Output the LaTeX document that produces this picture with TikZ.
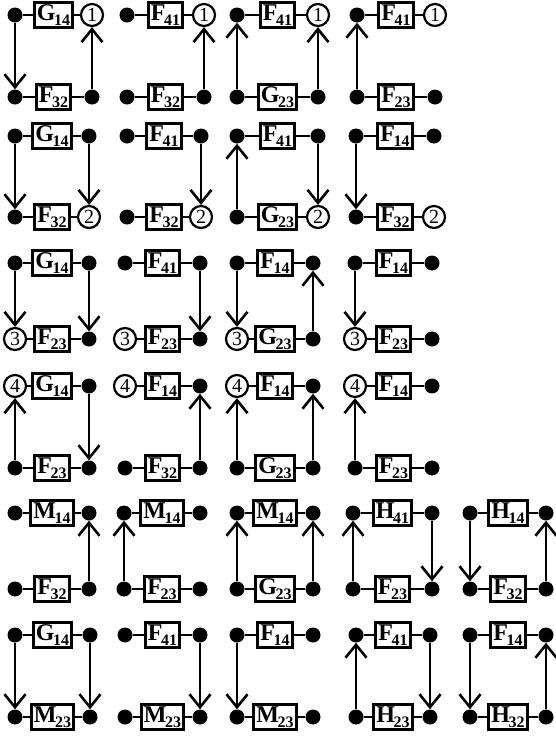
\documentclass[tikz,border=0pt]{standalone}
\usepackage{fontspec}
\setmainfont{Liberation Serif}
\usetikzlibrary{arrows.meta}

% bold gate letter with a lowered index
\newcommand\gl[2]{{\fontsize{24}{24}\selectfont\bfseries #1\kern-1.2pt\raisebox{-5pt}{\fontsize{16}{16}\selectfont #2}}}

\tikzset{
  dot/.style={circle, fill=black, inner sep=0pt, minimum size=15pt},
  numtxt/.style={inner sep=0pt, font=\fontsize{20}{20}\selectfont},
  numc/.style={circle, draw=black, line width=2.2pt, fill=white, inner sep=0pt, minimum size=22pt},
  c1/.style={numc, label={[numtxt]center:1}},
  c2/.style={numc, label={[numtxt]center:2}},
  c3/.style={numc, label={[numtxt]center:3}},
  c4/.style={numc, label={[numtxt]center:4}},
  gate/.style={draw=black, line width=2.6pt, fill=white, inner xsep=2.5pt, inner ysep=0pt, minimum height=25pt},
  wire/.style={line width=2.6pt},
  flow/.style={line width=2.4pt, -{Straight Barb[length=13pt,width=21pt,line width=2.6pt]}},
}

% one horizontal strand: terminal -- gate -- terminal
% #1 prefix, #2 y, #3 left x, #4 left terminal, #5 gate label, #6 right x, #7 right terminal
\newcommand\wirerow[7]{%
  \node[#4] (#1l) at (#3,#2) {};
  \node[#7] (#1r) at (#6,#2) {};
  \node[gate] (#1g) at ({(#3+#6)/2},#2) {#5};
  \draw[wire] (#1l) -- (#1g) (#1g) -- (#1r);
}

\begin{document}
\begin{tikzpicture}[x=1pt,y=-1pt]
\useasboundingbox (0,0) rectangle (555,737);

% ---- row 1 ----
\wirerow{a1t}{15}{15}{dot}{\gl{G}{14}}{92}{c1}
\wirerow{a1b}{97}{15}{dot}{\gl{F}{32}}{92}{dot}
\draw[flow] (a1tl) -- (a1bl);
\draw[flow] (a1br) -- (a1tr);

\wirerow{a2t}{15}{127}{dot}{\gl{F}{41}}{204}{c1}
\wirerow{a2b}{97}{127}{dot}{\gl{F}{32}}{204}{dot}
\draw[flow] (a2br) -- (a2tr);

\wirerow{a3t}{15}{237}{dot}{\gl{F}{41}}{318}{c1}
\wirerow{a3b}{97}{237}{dot}{\gl{G}{23}}{318}{dot}
\draw[flow] (a3bl) -- (a3tl);
\draw[flow] (a3br) -- (a3tr);

\wirerow{a4t}{15}{357}{dot}{\gl{F}{41}}{435}{c1}
\wirerow{a4b}{97}{357}{dot}{\gl{F}{23}}{435}{dot}
\draw[flow] (a4bl) -- (a4tl);

% ---- row 2 ----
\wirerow{b1t}{136}{15}{dot}{\gl{G}{14}}{89}{dot}
\wirerow{b1b}{217}{15}{dot}{\gl{F}{32}}{89}{c2}
\draw[flow] (b1tl) -- (b1bl);
\draw[flow] (b1tr) -- (b1br);

\wirerow{b2t}{136}{127}{dot}{\gl{F}{41}}{201}{dot}
\wirerow{b2b}{217}{127}{dot}{\gl{F}{32}}{201}{c2}
\draw[flow] (b2tr) -- (b2br);

\wirerow{b3t}{136}{237}{dot}{\gl{F}{41}}{318}{dot}
\wirerow{b3b}{217}{237}{dot}{\gl{G}{23}}{318}{c2}
\draw[flow] (b3bl) -- (b3tl);
\draw[flow] (b3tr) -- (b3br);

\wirerow{b4t}{136}{356}{dot}{\gl{F}{14}}{434}{dot}
\wirerow{b4b}{217}{356}{dot}{\gl{F}{32}}{434}{c2}
\draw[flow] (b4tl) -- (b4bl);

% ---- row 3 ----
\wirerow{c1t}{263}{15}{dot}{\gl{G}{14}}{89}{dot}
\wirerow{c1b}{339}{15}{c3}{\gl{F}{23}}{89}{dot}
\draw[flow] (c1tl) -- (c1bl);
\draw[flow] (c1tr) -- (c1br);

\wirerow{c2t}{263}{125}{dot}{\gl{F}{41}}{200}{dot}
\wirerow{c2b}{339}{125}{c3}{\gl{F}{23}}{200}{dot}
\draw[flow] (c2tr) -- (c2br);

\wirerow{c3t}{263}{237}{dot}{\gl{F}{14}}{313}{dot}
\wirerow{c3b}{339}{237}{c3}{\gl{G}{23}}{313}{dot}
\draw[flow] (c3tl) -- (c3bl);
\draw[flow] (c3br) -- (c3tr);

\wirerow{c4t}{263}{355}{dot}{\gl{F}{14}}{432}{dot}
\wirerow{c4b}{339}{355}{c3}{\gl{F}{23}}{432}{dot}
\draw[flow] (c4tl) -- (c4bl);

% ---- row 4 ----
\wirerow{d1t}{386}{15}{c4}{\gl{G}{14}}{89}{dot}
\wirerow{d1b}{468}{15}{dot}{\gl{F}{23}}{89}{dot}
\draw[flow] (d1bl) -- (d1tl);
\draw[flow] (d1tr) -- (d1br);

\wirerow{d2t}{386}{125}{c4}{\gl{F}{14}}{200}{dot}
\wirerow{d2b}{468}{125}{dot}{\gl{F}{32}}{200}{dot}
\draw[flow] (d2br) -- (d2tr);

\wirerow{d3t}{386}{237}{c4}{\gl{F}{14}}{313}{dot}
\wirerow{d3b}{468}{237}{dot}{\gl{G}{23}}{313}{dot}
\draw[flow] (d3bl) -- (d3tl);
\draw[flow] (d3br) -- (d3tr);

\wirerow{d4t}{386}{355}{c4}{\gl{F}{14}}{432}{dot}
\wirerow{d4b}{468}{355}{dot}{\gl{F}{23}}{432}{dot}
\draw[flow] (d4bl) -- (d4tl);

% ---- row 5 ----
\wirerow{e1t}{513}{15}{dot}{\gl{M}{14}}{89}{dot}
\wirerow{e1b}{589}{15}{dot}{\gl{F}{32}}{89}{dot}
\draw[flow] (e1br) -- (e1tr);

\wirerow{e2t}{513}{124}{dot}{\gl{M}{14}}{200}{dot}
\wirerow{e2b}{589}{124}{dot}{\gl{F}{23}}{200}{dot}
\draw[flow] (e2bl) -- (e2tl);

\wirerow{e3t}{513}{237}{dot}{\gl{M}{14}}{313}{dot}
\wirerow{e3b}{589}{237}{dot}{\gl{G}{23}}{313}{dot}
\draw[flow] (e3bl) -- (e3tl);
\draw[flow] (e3br) -- (e3tr);

\wirerow{e4t}{513}{353}{dot}{\gl{H}{41}}{432}{dot}
\wirerow{e4b}{589}{353}{dot}{\gl{F}{23}}{432}{dot}
\draw[flow] (e4bl) -- (e4tl);
\draw[flow] (e4tr) -- (e4br);

\wirerow{e5t}{513}{470}{dot}{\gl{H}{14}}{546}{dot}
\wirerow{e5b}{589}{470}{dot}{\gl{F}{32}}{546}{dot}
\draw[flow] (e5tl) -- (e5bl);
\draw[flow] (e5br) -- (e5tr);

% ---- row 6 ----
\wirerow{f1t}{635}{15}{dot}{\gl{G}{14}}{90}{dot}
\wirerow{f1b}{717}{15}{dot}{\gl{M}{23}}{90}{dot}
\draw[flow] (f1tl) -- (f1bl);
\draw[flow] (f1tr) -- (f1br);

\wirerow{f2t}{635}{125}{dot}{\gl{F}{41}}{200}{dot}
\wirerow{f2b}{717}{125}{dot}{\gl{M}{23}}{200}{dot}
\draw[flow] (f2tr) -- (f2br);

\wirerow{f3t}{635}{237}{dot}{\gl{F}{14}}{313}{dot}
\wirerow{f3b}{717}{237}{dot}{\gl{M}{23}}{313}{dot}
\draw[flow] (f3tl) -- (f3bl);

\wirerow{f4t}{635}{356}{dot}{\gl{F}{41}}{430}{dot}
\wirerow{f4b}{717}{356}{dot}{\gl{H}{23}}{430}{dot}
\draw[flow] (f4bl) -- (f4tl);
\draw[flow] (f4tr) -- (f4br);

\wirerow{f5t}{635}{470}{dot}{\gl{F}{14}}{546}{dot}
\wirerow{f5b}{717}{470}{dot}{\gl{H}{32}}{546}{dot}
\draw[flow] (f5tl) -- (f5bl);
\draw[flow] (f5br) -- (f5tr);
\end{tikzpicture}
\end{document}
